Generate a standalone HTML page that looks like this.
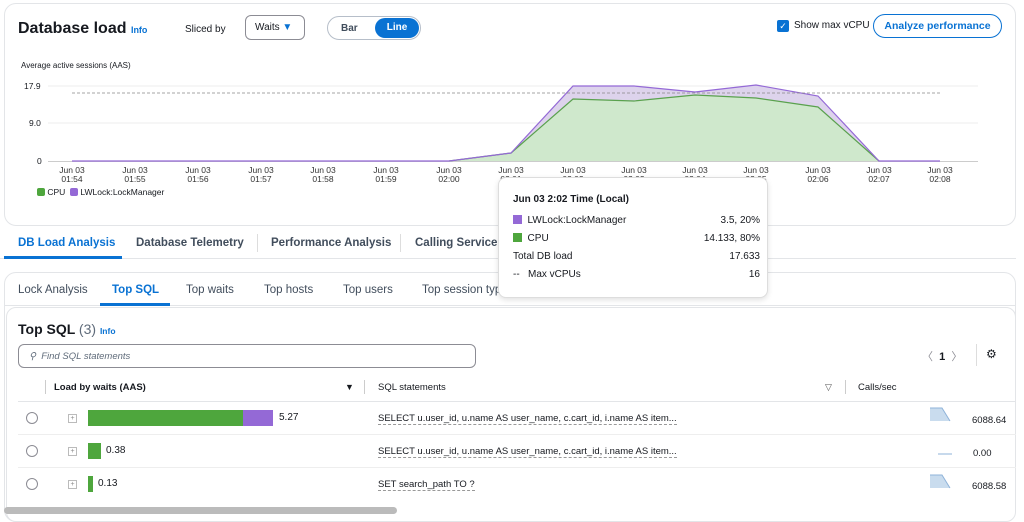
<!DOCTYPE html>
<html><head><style>
*{box-sizing:border-box;margin:0;padding:0}
body{width:1024px;height:517px;background:#fff;font-family:"Liberation Sans",sans-serif;color:#16191f;position:relative;overflow:hidden}
.a{position:absolute;white-space:nowrap}
.card{position:absolute;border:1px solid #e3e5e8;border-radius:12px;background:#fff}
.tick{position:absolute;font-size:8.5px;text-align:center;width:40px;line-height:9px;color:#333}
.b{font-weight:bold}
</style></head><body>
<div class="card" style="left:4px;top:3px;width:1012px;height:223px"></div>
<div class="a b" style="left:18px;top:20px;font-size:16px">Database load <span style="color:#0972d3;font-size:9px">Info</span></div>
<div class="a" style="left:185px;top:24px;font-size:10px">Sliced by</div>
<div class="a" style="left:245px;top:15px;width:60px;height:25px;border:1px solid #8c8c94;border-radius:6px;font-size:10px;padding:6px 0 0 9px">Waits <span style="color:#0972d3">▼</span></div>
<div class="a" style="left:327px;top:16px;width:94px;height:24px;border:1px solid #b6bec9;border-radius:12px"></div>
<div class="a b" style="left:341px;top:23px;font-size:10px;color:#414d5c">Bar</div>
<div class="a b" style="left:375px;top:18px;width:44px;height:20px;background:#0972d3;border-radius:10px;color:#fff;font-size:10px;text-align:center;line-height:20px">Line</div>
<div class="a" style="left:777px;top:20px;width:12px;height:12px;background:#0972d3;border-radius:2px;color:#fff;font-size:9px;text-align:center;line-height:12px">✓</div>
<div class="a" style="left:794px;top:20px;font-size:10px">Show max vCPU</div>
<div class="a b" style="left:873px;top:14px;width:129px;height:24px;border:1.5px solid #0972d3;border-radius:12px;color:#0972d3;font-size:10.5px;text-align:center;line-height:22px">Analyze performance</div>
<div class="a" style="left:21px;top:61px;font-size:8px">Average active sessions (AAS)</div>
<div class="a" style="left:24px;top:81px;font-size:8.5px">17.9</div>
<div class="a" style="left:29px;top:118px;font-size:8.5px">9.0</div>
<div class="a" style="left:37px;top:156px;font-size:8.5px">0</div>
<svg class="a" style="left:0;top:0" width="1024" height="180">
<line x1="48" y1="86" x2="978" y2="86" stroke="#eee"/>
<line x1="48" y1="123" x2="978" y2="123" stroke="#eee"/>
<line x1="48" y1="161.5" x2="978" y2="161.5" stroke="#ccc"/>
<polygon points="449,161 511,153 573,86 634,86 695,92 756,85 818,96 879,161" fill="#ddd3ec"/>
<polygon points="449,161 511,153 573,99 634,101 695,95 756,98 818,107 879,161" fill="#cfe8cc"/>
<polyline points="449,161 511,153 573,99 634,101 695,95 756,98 818,107 879,161" fill="none" stroke="#5aa14e" stroke-width="1.2"/>
<polyline points="72,161 449,161 511,153 573,86 634,86 695,92 756,85 818,96 879,161 940,161" fill="none" stroke="#9469d6" stroke-width="1.2"/>
<line x1="72" y1="93" x2="940" y2="93" stroke="#888" stroke-dasharray="3,2" stroke-width="0.8"/>
</svg>
<div class="tick" style="left:52px;top:166px">Jun 03<br>01:54</div>
<div class="tick" style="left:115px;top:166px">Jun 03<br>01:55</div>
<div class="tick" style="left:178px;top:166px">Jun 03<br>01:56</div>
<div class="tick" style="left:241px;top:166px">Jun 03<br>01:57</div>
<div class="tick" style="left:303px;top:166px">Jun 03<br>01:58</div>
<div class="tick" style="left:366px;top:166px">Jun 03<br>01:59</div>
<div class="tick" style="left:429px;top:166px">Jun 03<br>02:00</div>
<div class="tick" style="left:491px;top:166px">Jun 03<br>02:01</div>
<div class="tick" style="left:553px;top:166px">Jun 03<br>02:02</div>
<div class="tick" style="left:614px;top:166px">Jun 03<br>02:03</div>
<div class="tick" style="left:675px;top:166px">Jun 03<br>02:04</div>
<div class="tick" style="left:736px;top:166px">Jun 03<br>02:05</div>
<div class="tick" style="left:798px;top:166px">Jun 03<br>02:06</div>
<div class="tick" style="left:859px;top:166px">Jun 03<br>02:07</div>
<div class="tick" style="left:920px;top:166px">Jun 03<br>02:08</div>
<div class="a" style="left:37px;top:187px;font-size:8.5px"><span style="display:inline-block;width:8px;height:8px;background:#4ea63d;border-radius:2px;vertical-align:-1px"></span> CPU &nbsp;<span style="display:inline-block;width:8px;height:8px;background:#9469d6;border-radius:2px;vertical-align:-1px"></span> LWLock:LockManager</div>
<!-- tabs -->
<div class="a" style="left:0;top:258px;width:1016px;height:1px;background:#e3e5e8"></div>
<div class="a b" style="left:18px;top:237px;font-size:11.5px;color:#0972d3">DB Load Analysis</div>
<div class="a" style="left:4px;top:256px;width:118px;height:3px;background:#0972d3"></div>
<div class="a b" style="left:136px;top:237px;font-size:11.5px;color:#414d5c">Database Telemetry</div>
<div class="a b" style="left:271px;top:237px;font-size:11.5px;color:#414d5c">Performance Analysis</div>
<div class="a b" style="left:415px;top:237px;font-size:11.5px;color:#414d5c">Calling Services</div>
<div class="a" style="left:257px;top:234px;width:1px;height:18px;background:#ddd"></div>
<div class="a" style="left:400px;top:234px;width:1px;height:18px;background:#ddd"></div>
<div class="card" style="left:4px;top:272px;width:1012px;height:250px"></div>
<div class="a" style="left:4px;top:305px;width:1012px;height:1px;background:#e3e5e8"></div>
<div class="a" style="left:18px;top:284px;font-size:11.5px;color:#414d5c">Lock Analysis</div>
<div class="a b" style="left:112px;top:284px;font-size:11.5px;color:#0972d3">Top SQL</div>
<div class="a" style="left:100px;top:303px;width:70px;height:3px;background:#0972d3"></div>
<div class="a" style="left:186px;top:284px;font-size:11.5px;color:#414d5c">Top waits</div>
<div class="a" style="left:264px;top:284px;font-size:11.5px;color:#414d5c">Top hosts</div>
<div class="a" style="left:343px;top:284px;font-size:11.5px;color:#414d5c">Top users</div>
<div class="a" style="left:422px;top:284px;font-size:11.5px;color:#414d5c">Top session types</div>
<div class="card" style="left:6px;top:307px;width:1010px;height:215px;border-radius:10px"></div>
<div class="a b" style="left:18px;top:321px;font-size:14px">Top SQL <span style="font-weight:normal;color:#5f6b7a">(3)</span> <span style="color:#0972d3;font-size:8.5px">Info</span></div>
<div class="a" style="left:18px;top:344px;width:458px;height:24px;border:1px solid #8c8c94;border-radius:6px;font-size:9.5px;font-style:italic;color:#5f6b7a;padding:6px 0 0 10px">⚲ &nbsp;Find SQL statements</div>
<div class="a" style="left:922px;top:348px;font-size:11px;color:#8c8c94">〈 &nbsp;<b style="color:#16191f">1</b>&nbsp; 〉</div>
<div class="a" style="left:976px;top:344px;width:1px;height:22px;background:#ddd"></div>
<div class="a" style="left:986px;top:347px;font-size:12px">⚙</div>
<div class="a" style="left:45px;top:380px;width:1px;height:14px;background:#ccc"></div>
<div class="a b" style="left:54px;top:382px;font-size:9.5px">Load by waits (AAS)</div>
<div class="a" style="left:345px;top:382px;font-size:9px">▼</div>
<div class="a" style="left:364px;top:380px;width:1px;height:14px;background:#ccc"></div>
<div class="a" style="left:378px;top:382px;font-size:9.5px">SQL statements</div>
<div class="a" style="left:825px;top:382px;font-size:9px;color:#555">▽</div>
<div class="a" style="left:845px;top:380px;width:1px;height:14px;background:#ccc"></div>
<div class="a" style="left:858px;top:382px;font-size:9.5px">Calls/sec</div>
<div class="a" style="left:18px;top:401px;width:998px;height:1px;background:#e3e5e8"></div>
<div class="a" style="left:18px;top:434px;width:998px;height:1px;background:#eee"></div>
<div class="a" style="left:18px;top:467px;width:998px;height:1px;background:#eee"></div>
<!-- rows -->
<div class="a" style="left:26px;top:412px;width:12px;height:12px;border:1px solid #8c8c94;border-radius:50%"></div>
<div class="a" style="left:26px;top:445px;width:12px;height:12px;border:1px solid #8c8c94;border-radius:50%"></div>
<div class="a" style="left:26px;top:478px;width:12px;height:12px;border:1px solid #8c8c94;border-radius:50%"></div>
<div class="a" style="left:68px;top:414px;width:9px;height:9px;border:1px solid #bbb;font-size:7px;line-height:7px;text-align:center;color:#888">+</div>
<div class="a" style="left:68px;top:447px;width:9px;height:9px;border:1px solid #bbb;font-size:7px;line-height:7px;text-align:center;color:#888">+</div>
<div class="a" style="left:68px;top:480px;width:9px;height:9px;border:1px solid #bbb;font-size:7px;line-height:7px;text-align:center;color:#888">+</div>
<div class="a" style="left:88px;top:410px;width:155px;height:16px;background:#4ea63d"></div>
<div class="a" style="left:243px;top:410px;width:30px;height:16px;background:#9469d6"></div>
<div class="a" style="left:279px;top:412px;font-size:10px">5.27</div>
<div class="a" style="left:88px;top:443px;width:13px;height:16px;background:#4ea63d"></div>
<div class="a" style="left:106px;top:445px;font-size:10px">0.38</div>
<div class="a" style="left:88px;top:476px;width:5px;height:16px;background:#4ea63d"></div>
<div class="a" style="left:98px;top:478px;font-size:10px">0.13</div>
<div class="a" style="left:378px;top:413px;font-size:9.5px;border-bottom:1px dashed #999">SELECT u.user_id, u.name AS user_name, c.cart_id, i.name AS item...</div>
<div class="a" style="left:378px;top:446px;font-size:9.5px;border-bottom:1px dashed #999">SELECT u.user_id, u.name AS user_name, c.cart_id, i.name AS item...</div>
<div class="a" style="left:378px;top:479px;font-size:9.5px;border-bottom:1px dashed #999">SET search_path TO ?</div>
<svg class="a" style="left:928px;top:405px" width="40" height="90">
<polygon points="2,3 14,3 22,16 2,16" fill="#c9dcee"/><polyline points="2,3 14,3 22,16" fill="none" stroke="#8fb3d9"/>
<line x1="10" y1="49" x2="24" y2="49" stroke="#8fb3d9"/>
<polygon points="2,70 14,70 22,83 2,83" fill="#c9dcee"/><polyline points="2,70 14,70 22,83" fill="none" stroke="#8fb3d9"/>
</svg>
<div class="a" style="left:972px;top:415px;font-size:9.5px">6088.64</div>
<div class="a" style="left:973px;top:448px;font-size:9.5px">0.00</div>
<div class="a" style="left:972px;top:481px;font-size:9.5px">6088.58</div>
<div class="a" style="left:4px;top:507px;width:393px;height:7px;background:#bbb;border-radius:4px"></div>
<!-- tooltip -->
<div class="a" style="left:498px;top:177px;width:270px;height:121px;background:#fff;border:1px solid #ddd;border-radius:8px;box-shadow:0 2px 6px rgba(0,0,0,.12)"></div>
<div class="a b" style="left:513px;top:194px;font-size:10px">Jun 03 2:02 Time (Local)</div>
<div class="a" style="left:513px;top:215px;font-size:10px"><span style="display:inline-block;width:9px;height:9px;background:#9469d6;vertical-align:-1px"></span>&nbsp; LWLock:LockManager</div>
<div class="a" style="left:700px;top:215px;font-size:10px;width:60px;text-align:right">3.5, 20%</div>
<div class="a" style="left:513px;top:233px;font-size:10px"><span style="display:inline-block;width:9px;height:9px;background:#4ea63d;vertical-align:-1px"></span>&nbsp; CPU</div>
<div class="a" style="left:680px;top:233px;font-size:10px;width:80px;text-align:right">14.133, 80%</div>
<div class="a" style="left:513px;top:251px;font-size:10px">Total DB load</div>
<div class="a" style="left:700px;top:251px;font-size:10px;width:60px;text-align:right">17.633</div>
<div class="a" style="left:513px;top:269px;font-size:10px">--&nbsp;&nbsp; Max vCPUs</div>
<div class="a" style="left:700px;top:269px;font-size:10px;width:60px;text-align:right">16</div>
</body></html>
